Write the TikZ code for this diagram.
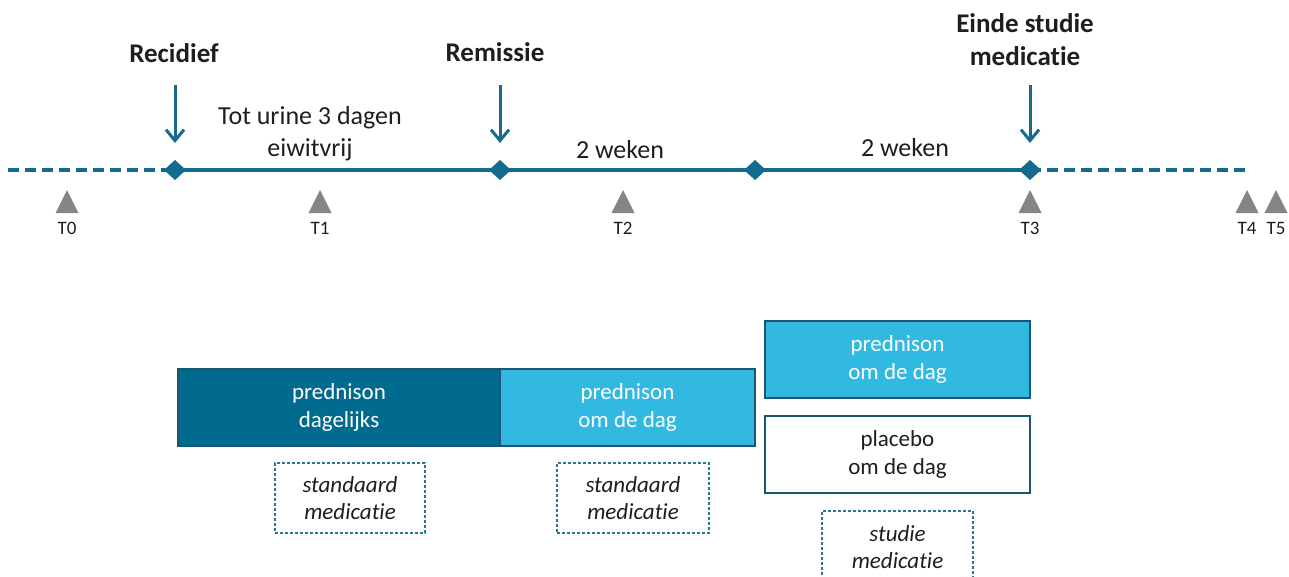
\documentclass[tikz,border=0pt]{standalone}
\usepackage{fontspec}
\setmainfont{Carlito}[Ligatures=NoCommon]
\usetikzlibrary{arrows.meta,calc}
\definecolor{tline}{HTML}{136B8D}
\definecolor{darkbox}{HTML}{006A8F}
\definecolor{lightbox}{HTML}{31B9E1}
\definecolor{boxborder}{HTML}{1A5670}
\definecolor{tri}{HTML}{858585}
\definecolor{dashc}{HTML}{2A7894}
\definecolor{txt}{HTML}{1E1E1E}
\tikzset{
  tl/.style={line width=3.6pt, draw=tline},
  tldash/.style={tl, dash pattern=on 11pt off 6pt},
  evarrow/.style={draw=tline, line width=3pt, -{Straight Barb[length=11pt,width=18pt,line width=3pt]}},
  evlabel/.style={font=\fontsize{27}{33}\selectfont\bfseries, text=txt, align=center, inner sep=0pt},
  spanlabel/.style={font=\fontsize{26}{32}\selectfont, text=txt, align=center, inner sep=0pt},
  tlab/.style={font=\fontsize{19}{22}\selectfont, text=txt, inner sep=0pt},
  medbox/.style={draw=boxborder, line width=2.2pt, align=center, font=\fontsize{23}{28}\selectfont, inner sep=0pt},
  noteb/.style={draw=dashc, line width=1.1pt, dash pattern=on 3pt off 2pt, text=txt, align=center, font=\fontsize{23}{27}\selectfont\itshape, inner sep=0pt}
}
\begin{document}
\begin{tikzpicture}[x=1pt,y=-1pt]
\useasboundingbox (0,0) rectangle (1289,576);
% coordinates on timeline
\coordinate (L) at (8,170);
\coordinate (R) at (1245,170);
\coordinate (d1) at (175,170);
\coordinate (d2) at (500,170);
\coordinate (d3) at (755,170);
\coordinate (d4) at (1030,170);
% timeline
\draw[tldash] (L) -- (d1);
\draw[tl] (d1) -- (d4);
\draw[tldash] (d4) -- (R);
% diamonds
\foreach \d in {d1,d2,d3,d4}{
  \fill[tline] ($(\d)+(-11,0)$) -- ($(\d)+(0,-10)$) -- ($(\d)+(11,0)$) -- ($(\d)+(0,10)$) -- cycle;
}
% event labels and arrows
\node[evlabel] (recid) at (174,53) {Recidief};
\node[evlabel] (remis) at (495,52) {Remissie};
\node[evlabel] (einde) at (1025,40) {Einde studie\\medicatie};
\coordinate (a1s) at (175,85); \coordinate (a1e) at (175,143);
\coordinate (a2s) at (500,85); \coordinate (a2e) at (500,143);
\coordinate (a3s) at (1030,85); \coordinate (a3e) at (1030,143);
\draw[evarrow] (a1s) -- (a1e);
\draw[evarrow] (a2s) -- (a2e);
\draw[evarrow] (a3s) -- (a3e);
% span labels
\node[spanlabel] (s1) at (310,134) {Tot urine 3 dagen\\eiwitvrij};
\node[spanlabel] (s2) at (620,150) {2 weken};
\node[spanlabel] (s3) at (905,148) {2 weken};
% time markers
\foreach \x/\n in {67/T0,320/T1,623/T2,1030/T3,1247/T4,1276/T5}{
  \fill[tri] (\x-11.5,213) -- (\x,190) -- (\x+11.5,213) -- cycle;
  \node[tlab] (lab\n) at (\x,228) {\n};
}
% medication boxes
\node[medbox, fill=darkbox, text=white, minimum width=322pt, minimum height=77pt] (b1) at (339,407.5) {prednison\\dagelijks};
\node[medbox, fill=lightbox, text=white, minimum width=255pt, minimum height=77pt] (b2) at (627.5,407.5) {prednison\\om de dag};
\node[medbox, fill=lightbox, text=white, minimum width=265pt, minimum height=77pt] (b3) at (897.5,359.5) {prednison\\om de dag};
\node[medbox, fill=white, text=txt, minimum width=265pt, minimum height=77pt] (b4) at (897.5,454.5) {placebo\\om de dag};
% note boxes
\node[noteb, minimum width=150pt, minimum height=70pt] (n1) at (350,498) {standaard\\medicatie};
\node[noteb, minimum width=152pt, minimum height=70pt] (n2) at (633,498) {standaard\\medicatie};
\node[noteb, minimum width=151pt, minimum height=72pt] (n3) at (897.5,547) {studie\\medicatie};
\end{tikzpicture}
\end{document}
